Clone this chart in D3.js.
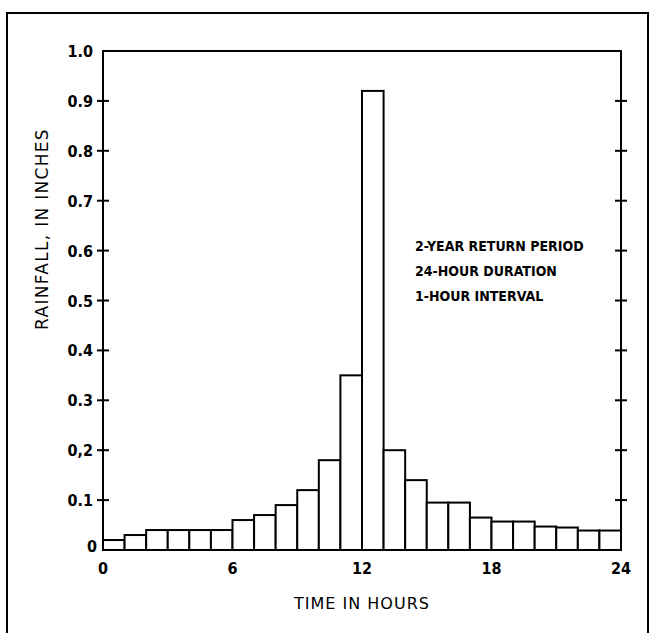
<!DOCTYPE html>
<html>
<head>
<meta charset="utf-8">
<script src="https://cdn.jsdelivr.net/npm/d3@7"></script>
<style>
  body { margin: 0; background: #fff; }
  text { font-family: "DejaVu Sans Condensed", "DejaVu Sans", sans-serif; font-stretch: condensed; fill: #000; }
  .title { font-family: "DejaVu Sans", sans-serif; font-stretch: normal; }
</style>
</head>
<body>
<div id="chart"></div>
<script>
// hourly rainfall, inches (hour 0-1 ... 23-24)
var hours = d3.range(0, 24);
var rainfall = [0.02, 0.03, 0.04, 0.04, 0.04, 0.04, 0.06, 0.07, 0.09, 0.12, 0.18, 0.35,
                0.92, 0.20, 0.14, 0.095, 0.095, 0.065, 0.057, 0.057, 0.047, 0.045, 0.039, 0.039];
var xTicks = [0, 6, 12, 18, 24];
var yTicks = [0.1, 0.2, 0.3, 0.4, 0.5, 0.6, 0.7, 0.8, 0.9, 1.0];
var yTickLabels = ["0.1", "0,2", "0.3", "0.4", "0.5", "0.6", "0.7", "0.8", "0.9", "1.0"];
var notes = ["2-YEAR RETURN PERIOD", "24-HOUR DURATION", "1-HOUR INTERVAL"];

var W = 651, H = 633;
var svg = d3.select("#chart").append("svg").attr("width", W).attr("height", H);

// outer frame
svg.append("rect").attr("x", 7).attr("y", 13).attr("width", 641).attr("height", 640)
    .attr("fill", "none").attr("stroke", "#000").attr("stroke-width", 2);

var x = d3.scaleLinear().domain([0, 24]).range([103, 621]);
var y = d3.scaleLinear().domain([0, 1]).range([550, 51]);

// bars
svg.selectAll("rect.bar").data(rainfall).enter().append("rect")
    .attr("class", "bar")
    .attr("x", function (d, i) { return x(hours[i]); })
    .attr("y", function (d) { return y(d); })
    .attr("width", function (d, i) { return x(hours[i] + 1) - x(hours[i]); })
    .attr("height", function (d) { return y(0) - y(d); })
    .attr("fill", "#fff").attr("stroke", "#000").attr("stroke-width", 2);

// plot box
svg.append("rect").attr("x", x(0)).attr("y", y(1)).attr("width", x(24) - x(0)).attr("height", y(0) - y(1))
    .attr("fill", "none").attr("stroke", "#000").attr("stroke-width", 2);

// y ticks crossing both vertical axes
var yt = yTicks.filter(function (d) { return d < 1; });
[x(0), x(24)].forEach(function (px) {
    svg.selectAll(null).data(yt).enter().append("line")
        .attr("x1", px - 6).attr("x2", px + 6)
        .attr("y1", function (d) { return y(d); }).attr("y2", function (d) { return y(d); })
        .attr("stroke", "#000").attr("stroke-width", 2);
});

// y tick labels
svg.selectAll(null).data(yTicks).enter().append("text")
    .attr("x", x(0) - 10)
    .attr("y", function (d) { return y(d) + 6; })
    .attr("text-anchor", "end")
    .attr("font-size", 16).attr("font-weight", "bold")
    .text(function (d, i) { return yTickLabels[i]; });
svg.append("text").attr("x", x(0) - 6).attr("y", y(0) + 2)
    .attr("text-anchor", "end").attr("font-size", 16).attr("font-weight", "bold").text("0");

// x tick labels
svg.selectAll(null).data(xTicks).enter().append("text")
    .attr("x", function (d) { return x(d); })
    .attr("y", y(0) + 24)
    .attr("text-anchor", "middle")
    .attr("font-size", 16).attr("font-weight", "bold")
    .text(function (d) { return d; });

// axis titles
svg.append("text").attr("class", "title").attr("x", x(12)).attr("y", 609)
    .attr("text-anchor", "middle").attr("font-size", 16).attr("letter-spacing", 1)
    .text("TIME IN HOURS");
svg.append("text").attr("class", "title").attr("transform", "translate(48,229) rotate(-90)")
    .attr("text-anchor", "middle").attr("font-size", 17).attr("letter-spacing", 1.3)
    .text("RAINFALL, IN INCHES");

// annotation
svg.selectAll(null).data(notes).enter().append("text")
    .attr("x", 415)
    .attr("y", function (d, i) { return 251 + i * 25; })
    .attr("font-size", 14).attr("font-weight", "bold")
    .text(function (d) { return d; });
</script>
</body>
</html>
